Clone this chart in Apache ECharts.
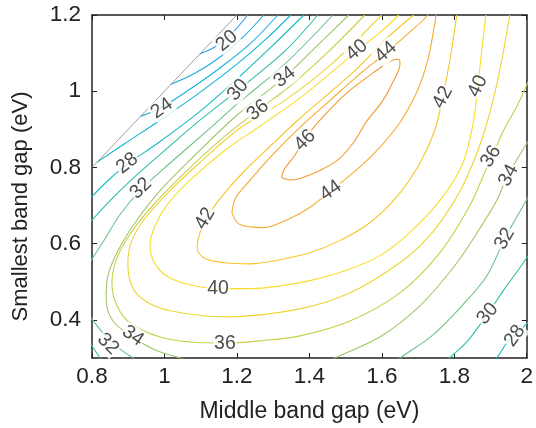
<!DOCTYPE html>
<html><head><meta charset="utf-8">
<script src="https://cdn.jsdelivr.net/npm/echarts@6/dist/echarts.min.js"></script>
<style>html,body{margin:0;padding:0;background:#fff}#c{width:536px;height:428px}</style>
</head><body><div id="c"></div>
<script>
// Contour levels and traced contour paths [middle gap eV, smallest gap eV]
const levels = [20,22,24,26,28,30,32,34,36,38,40,42,44,46];
const c20 = [[1.098,1.098],[1.139,1.116],[1.181,1.147],[1.23,1.2]];
const c22 = [[1.018,1.018],[1.084,1.047],[1.153,1.089],[1.217,1.142],[1.274,1.2]];
const c24 = [[0.934,0.934],[0.993,0.958],[1.07,1.005],[1.153,1.061],[1.236,1.124],[1.313,1.2]];
const c26 = [[0.814,0.814],[0.891,0.863],[0.988,0.924],[1.098,0.997],[1.2,1.071],[1.277,1.134],[1.349,1.2]];
const c28 = [[0.79,0.714],[0.85,0.771],[0.897,0.808],[0.988,0.868],[1.098,0.947],[1.2,1.032],[1.291,1.113],[1.385,1.2]];
const c28b = [[1.9,0.29],[1.917,0.3],[1.945,0.34],[1.967,0.36],[1.985,0.375],[2.0,0.39],[2.02,0.41]];
const c30 = [[0.79,0.651],[0.85,0.713],[0.916,0.774],[1.001,0.845],[1.098,0.924],[1.203,1.003],[1.332,1.105],[1.423,1.2]];
const c30b = [[0.79,0.35],[0.8,0.332],[0.822,0.3],[0.83,0.29]];
const c30c = [[1.78,0.29],[1.787,0.3],[1.837,0.345],[1.892,0.416],[1.939,0.482],[1.975,0.529],[2.0,0.563],[2.02,0.59]];
const c32 = [[0.79,0.545],[0.836,0.613],[0.877,0.676],[0.935,0.742],[1.015,0.811],[1.126,0.903],[1.2,0.966],[1.332,1.071],[1.465,1.2]];
const c32b = [[0.79,0.415],[0.85,0.345],[0.913,0.3],[0.935,0.29]];
const c32c = [[1.64,0.29],[1.65,0.3],[1.738,0.358],[1.821,0.437],[1.89,0.516],[1.939,0.613],[1.97,0.666],[2.0,0.716],[2.02,0.75]];
const c34 = [[1.509,1.2],[1.423,1.121],[1.332,1.037],[1.2,0.937],[1.084,0.832],[0.988,0.739],[0.919,0.655],[0.872,0.582],[0.844,0.516],[0.839,0.455],[0.858,0.397],[0.913,0.355],[0.974,0.321],[1.054,0.297],[1.07,0.29]];
const c34b = [[1.455,0.29],[1.47,0.3],[1.594,0.355],[1.705,0.437],[1.801,0.542],[1.87,0.639],[1.917,0.713],[1.945,0.774],[1.975,0.824],[2.0,0.863],[2.02,0.89]];
const c36 = [[1.553,1.2],[1.457,1.108],[1.346,1.013],[1.258,0.95],[1.153,0.871],[1.043,0.774],[0.96,0.692],[0.899,0.616],[0.866,0.555],[0.855,0.497],[0.869,0.437],[0.905,0.392],[0.988,0.355],[1.07,0.342],[1.167,0.339],[1.263,0.345],[1.374,0.358],[1.512,0.397],[1.65,0.471],[1.76,0.576],[1.843,0.7],[1.884,0.787],[1.903,0.826],[1.939,0.903],[1.97,0.955],[2.0,1.016],[2.02,1.06]];
const c38 = [[1.6,1.2],[1.457,1.068],[1.332,0.976],[1.208,0.903],[1.098,0.813],[1.01,0.734],[0.946,0.666],[0.91,0.608],[0.899,0.55],[0.91,0.489],[0.946,0.45],[1.015,0.424],[1.167,0.408],[1.374,0.429],[1.512,0.471],[1.65,0.55],[1.732,0.621],[1.801,0.713],[1.843,0.792],[1.884,0.897],[1.92,1.029],[1.953,1.2]];
const c40 = [[1.647,1.2],[1.594,1.153],[1.534,1.108],[1.484,1.068],[1.374,0.982],[1.263,0.908],[1.167,0.845],[1.07,0.766],[1.01,0.705],[0.974,0.647],[0.96,0.595],[0.974,0.547],[1.01,0.513],[1.07,0.492],[1.148,0.482],[1.236,0.482],[1.319,0.489],[1.401,0.503],[1.498,0.529],[1.594,0.568],[1.677,0.629],[1.76,0.713],[1.821,0.805],[1.851,0.911],[1.865,1.013],[1.876,1.108],[1.887,1.2]];
const c42 = [[1.688,1.2],[1.608,1.134],[1.534,1.061],[1.457,0.997],[1.374,0.929],[1.291,0.855],[1.222,0.792],[1.167,0.734],[1.126,0.682],[1.098,0.629],[1.09,0.589],[1.112,0.561],[1.167,0.55],[1.236,0.547],[1.319,0.558],[1.401,0.576],[1.484,0.608],[1.567,0.655],[1.644,0.726],[1.705,0.811],[1.746,0.897],[1.768,0.984],[1.788,1.082],[1.807,1.2]];
const c44 = [[1.186,0.682],[1.197,0.721],[1.236,0.766],[1.291,0.826],[1.374,0.905],[1.457,0.976],[1.539,1.045],[1.614,1.103],[1.677,1.155],[1.727,1.2],[1.738,1.224],[1.749,1.2],[1.743,1.161],[1.727,1.082],[1.699,1.003],[1.65,0.918],[1.581,0.839],[1.512,0.779],[1.459,0.739],[1.401,0.695],[1.346,0.666],[1.272,0.642],[1.208,0.65],[1.186,0.682]];
const c46 = [[1.323,0.774],[1.346,0.767],[1.374,0.771],[1.429,0.792],[1.484,0.824],[1.526,0.871],[1.556,0.918],[1.603,0.976],[1.633,1.029],[1.65,1.071],[1.647,1.084],[1.63,1.082],[1.586,1.055],[1.503,0.995],[1.437,0.932],[1.39,0.879],[1.36,0.832],[1.332,0.797],[1.323,0.774]];
const diagonal = [[0.8,0.8],[1.2,1.2]];

// contour label positions [x, y, level] and their text angles
const labelPts = [[1.172,1.132,20],[0.993,0.955,24],[0.897,0.811,28],[1.203,1.003,30],[0.935,0.745,32],[1.332,1.037,34],[1.258,0.95,36],[1.531,1.108,40],[1.611,1.103,44],[1.388,0.871,46],[1.459,0.739,44],[1.112,0.666,42],[1.148,0.482,40],[1.167,0.339,36],[0.913,0.358,34],[0.844,0.337,32],[1.768,0.984,42],[1.865,1.013,40],[1.901,0.829,36],[1.95,0.779,34],[1.939,0.613,32],[1.892,0.416,30],[1.967,0.358,28]];
const labelAngles = [40,35,38,50,45,38,40,40,42,45,35,60,0,0,-35,-45,62,65,58,62,60,50,55];

const xTicks = [0.8,1,1.2,1.4,1.6,1.8,2];
const yTicks = [0.4,0.6,0.8,1,1.2];

const colors = {20:'#2a9ee0',22:'#1ea8e0',24:'#16b0dc',26:'#12b6d0',28:'#16bac2',30:'#2ebea8',32:'#6cc38a',34:'#9ec866',36:'#c8cf45',38:'#ecd634',40:'#f8dc2a',42:'#f9c42a',44:'#f5aa30',46:'#f29a30'};
const pieces = [[20,c20],[22,c22],[24,c24],[26,c26],[28,c28],[28,c28b],[30,c30],[30,c30b],[30,c30c],[32,c32],[32,c32b],[32,c32c],[34,c34],[34,c34b],[36,c36],[38,c38],[40,c40],[42,c42],[44,c44],[46,c46]];

const FONT = 'Liberation Sans, Arial, Helvetica, sans-serif';
const series = pieces.map(([lv, pts]) => ({
  type:'line', data: pts, smooth: 0.35, showSymbol:false, clip:true, silent:true,
  lineStyle:{color: colors[lv], width:1.1}, z:2
}));
series.push({type:'line', data: diagonal, showSymbol:false, silent:true, lineStyle:{color:'#a0a0a0', width:1}, z:2});
series.push({
  type:'scatter', symbolSize:0, silent:true, z:5,
  data: labelPts.map((p,i)=>({value:[p[0],p[1]], name:String(p[2]),
    label:{rotate: labelAngles[i]}})),
  label:{show:true, position:'inside', formatter: p=>p.name, fontFamily:FONT, fontSize:19.5,
    color:'#222', backgroundColor:'#fff', padding:[0,1]}
});

const axisCommon = {
  axisLine:{show:true, onZero:false, lineStyle:{color:'#222', width:1.5}},
  axisTick:{show:true, inside:true, length:5, lineStyle:{color:'#222', width:1}},
  splitLine:{show:false}
};
const fmt = v => String(Math.round(v*10)/10);
const option = {
  animation:false,
  grid:{left:92, right:9, top:15, bottom:70},
  xAxis:[
    Object.assign({type:'value', min:0.8, max:2, interval:0.2, position:'bottom',
      name:'Middle band gap (eV)', nameLocation:'middle', nameGap:42,
      nameTextStyle:{fontFamily:FONT, fontSize:23, color:'#222'},
      axisLabel:{fontFamily:FONT, fontSize:22.5, color:'#222', margin:7, formatter:fmt, customValues:xTicks}}, axisCommon,
      {axisTick:Object.assign({}, axisCommon.axisTick, {customValues:xTicks})}),
    Object.assign({type:'value', min:0.8, max:2, interval:0.2, position:'top', axisLabel:{show:false}}, axisCommon,
      {axisTick:Object.assign({}, axisCommon.axisTick, {customValues:xTicks})})
  ],
  yAxis:[
    Object.assign({type:'value', min:0.3, max:1.2, position:'left',
      name:'Smallest band gap (eV)', nameLocation:'middle', nameGap:60,
      nameTextStyle:{fontFamily:FONT, fontSize:22, color:'#222', padding:[0,40,0,0]},
      axisLabel:{fontFamily:FONT, fontSize:22.5, color:'#222', margin:11, formatter:fmt, customValues:yTicks}}, axisCommon,
      {axisTick:Object.assign({}, axisCommon.axisTick, {customValues:yTicks})}),
    Object.assign({type:'value', min:0.3, max:1.2, position:'right', axisLabel:{show:false}}, axisCommon,
      {axisTick:Object.assign({}, axisCommon.axisTick, {customValues:yTicks})})
  ],
  series
};
const chart = echarts.init(document.getElementById('c'), null, {renderer:'canvas'});
chart.setOption(option);
</script></body></html>
